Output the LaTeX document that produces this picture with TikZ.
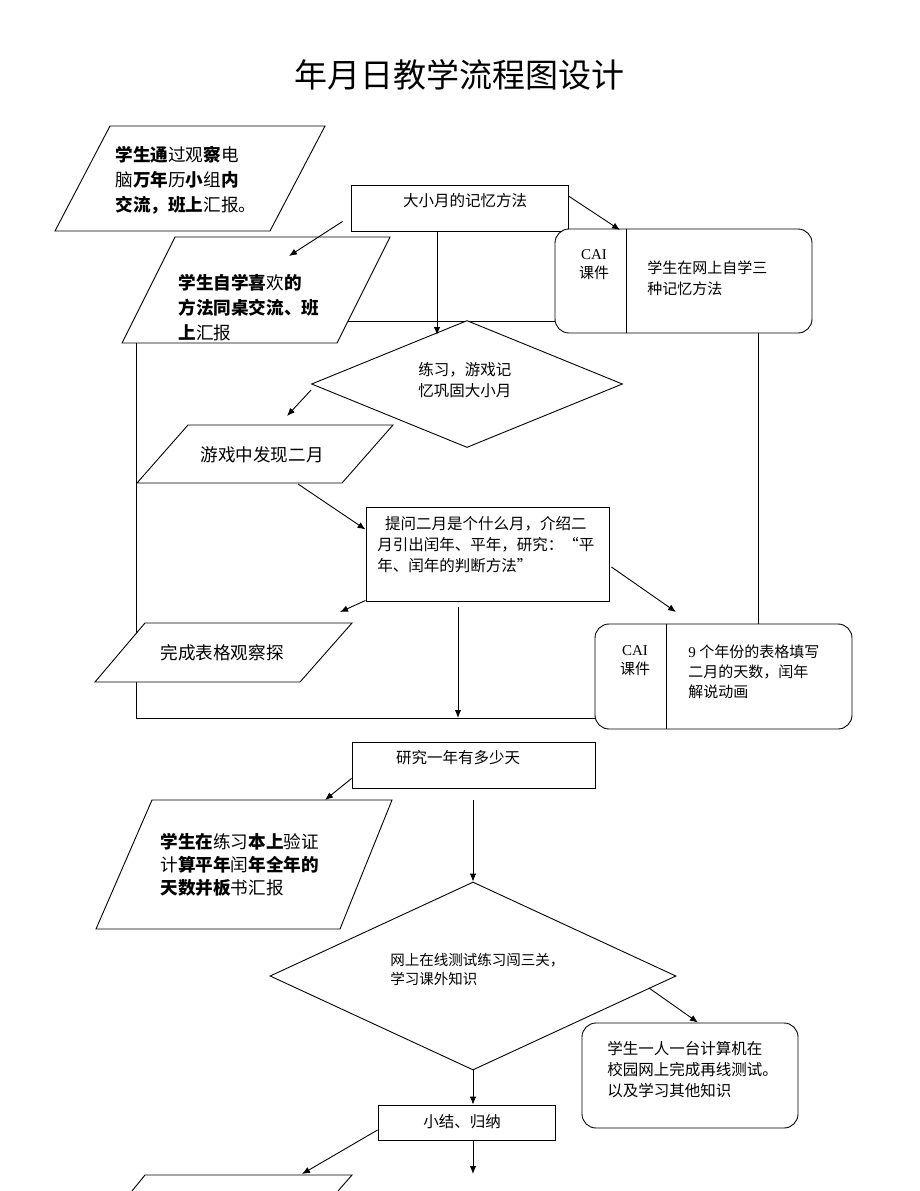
\documentclass[tikz,border=0pt]{standalone}
\usepackage{fontspec}
\setmainfont{Noto Sans CJK SC}
\newfontfamily\tms{Liberation Serif}
\usetikzlibrary{arrows.meta, shapes.geometric, positioning, backgrounds}

\begin{document}
\begin{tikzpicture}[
            x=1pt, y=-1pt,
            line width=0.9pt,
            >={Latex[length=8pt, width=6.5pt]},
            flow/.style={draw, fill=white},
            box/.style={draw, fill=white, rectangle, inner sep=0pt},
            rbox/.style={box, rounded corners=14pt},
            choice/.style={draw, fill=white, diamond, inner sep=0pt},
            txt/.style={inner sep=0pt, align=left, anchor=west, font=\fontsize{15.5}{21}\selectfont},
            bigtxt/.style={inner sep=0pt, align=left, anchor=west, font=\fontsize{17.6}{25}\selectfont},
            tag/.style={inner sep=0pt, align=center, font=\fontsize{15}{19}\selectfont},
            link/.style={->}
        ]
        \useasboundingbox (0,0) rectangle (920,1191);

        \node[font=\fontsize{33}{36}\selectfont] (title) at (459,75) {年月日教学流程图设计};

        % boxes
        \node[box, minimum width=217pt, minimum height=46pt] (months) at (459.5,208) {};
        \node[rbox, minimum width=257pt, minimum height=104pt] (cai1) at (683.5,281) {};
        \node[choice, minimum width=311pt, minimum height=127pt] (play) at (467,384) {};
        \node[box, minimum width=243pt, minimum height=94pt] (ask) at (487.5,554) {};
        \node[rbox, minimum width=257pt, minimum height=105pt] (cai2) at (723.5,676.5) {};
        \node[box, minimum width=243pt, minimum height=46pt] (study) at (473.5,765) {};
        \node[choice, minimum width=406pt, minimum height=188pt] (test) at (473,976) {};
        \node[rbox, minimum width=216pt, minimum height=105pt] (net) at (690,1075.5) {};
        \node[box, minimum width=177pt, minimum height=35pt] (sum) at (466.5,1122.5) {};

        \draw ([xshift=72pt]cai1.north west) -- ([xshift=72pt]cai1.south west);
        \draw ([xshift=72pt]cai2.north west) -- ([xshift=72pt]cai2.south west);

        % parallelograms
        \draw[flow] (110,126) -- (325,126) -- (270,231) -- (55,231) -- cycle;
        \draw[flow] (175,237) -- (390,237) -- (337,343) -- (122,343) -- cycle;
        \draw[flow] (188,425) -- (393,425) -- (342,483) -- (137,483) -- cycle;
        \draw[flow] (145,623) -- (352,623) -- (300,682) -- (95,682) -- cycle;
        \draw[flow] (152,800) -- (392,800) -- (340,929) -- (96,929) -- cycle;
        \draw[flow] (132,1191) -- (145,1175) -- (352,1175) -- (338,1191);

        \coordinate (loopTop) at (136,343);
        \coordinate (loopBot) at (136,718);
        \coordinate (loopEnd) at (595,718);
        \coordinate (p2side) at (348,321);

        \begin{scope}[on background layer]
            \draw (loopTop) -- (loopBot) -- (loopEnd);
            \draw (p2side) -- ([yshift=-40pt]cai1.west);
            \draw ([xshift=74.5pt]cai1.south) -- ([xshift=34.5pt]cai2.north);
        \end{scope}

        % texts
        \node[bigtxt] (t1) at (115,180) {\textbf{学生通}过观\textbf{察}电\\脑\textbf{万年}历\textbf{小}组\textbf{内}\\\textbf{交流，班上}汇报。};
        \node[txt, anchor=center] (tmonths) at (465,201) {大小月的记忆方法};
        \node[bigtxt] (t2) at (178,308) {\textbf{学生自学喜}欢\textbf{的}\\\textbf{方法同桌交流、班}\\\textbf{上}汇报};
        \node[tag] (tcai1) at (594,265) {{\tms CAI}\\课件};
        \node[txt, font=\fontsize{15}{21}\selectfont] (tcai1b) at (647,278) {学生在网上自学三\\种记忆方法};
        \node[txt] (tplay) at (418,380) {练习，游戏记\\忆巩固大小月};
        \node[bigtxt, anchor=center] (t3) at (262,455) {游戏中发现二月};
        \node[txt] (task) at (377,545) {\hspace*{0.5em}提问二月是个什么月，介绍二\\月引出闰年、平年，研究：“平\\年、闰年的判断方法”};
        \node[bigtxt, anchor=center] (t4) at (222,653) {完成表格观察探};
        \node[tag] (tcai2) at (635,661) {{\tms CAI}\\课件};
        \node[txt, font=\fontsize{15}{20}\selectfont] (tcai2b) at (688,672) {{\tms 9} 个年份的表格填写\\二月的天数，闰年\\解说动画};
        \node[txt, anchor=center] (tstudy) at (458,758) {研究一年有多少天};
        \node[bigtxt, font=\fontsize{17.6}{23}\selectfont] (t5) at (160,865) {\textbf{学生在}练习\textbf{本上}验证\\计\textbf{算平年}闰\textbf{年全年的}\\\textbf{天数并板}书汇报};
        \node[txt, font=\fontsize{14.5}{19}\selectfont] (ttest) at (390,969) {网上在线测试练习闯三关，\\学习课外知识};
        \node[txt] (tnet) at (607,1070) {学生一人一台计算机在\\校园网上完成再线测试。\\以及学习其他知识};
        \node[txt, anchor=center] (tsum) at (462,1122) {小结、归纳};

        % arrows
        \coordinate (tipP2) at (289,256);
        \coordinate (tipCai1) at (620,230);
        \coordinate (tipPlay) at (437,335);
        \coordinate (tipP3) at (287,416);
        \coordinate (p3out) at (298,484);
        \coordinate (tipP4) at (340,612);
        \coordinate (tipCai2) at (676,612);
        \coordinate (tipLoop) at (458,718);
        \coordinate (tipP5) at (325,800);
        \coordinate (testOut) at (649,988);
        \coordinate (tipP6) at (302,1174);
        \coordinate (tipEnd) at (473,1174);

        \draw[link] ([xshift=-8pt, yshift=10pt]months.south west) -- (tipP2);
        \draw[link] ([yshift=12pt]months.east) -- (tipCai1);
        \draw[link] (months.south -| tipPlay) -- (tipPlay);
        \draw[link] ([yshift=-6pt]play.west) -- (tipP3);
        \draw[link] (p3out) -- ([yshift=-23pt]ask.north west);
        \draw[link] ([yshift=1pt]ask.south west) -- (tipP4);
        \draw[link] ([xshift=2pt, yshift=-13pt]ask.east) -- (tipCai2);
        \draw[link] ([yshift=-6pt]ask.south -| tipLoop) -- (tipLoop);
        \draw[link] ([yshift=10pt]study.south west) -- (tipP5);
        \draw[link] ([yshift=-12pt]study.south -| test.north) -- (test.north);
        \draw[link] (testOut) -- ([xshift=8pt]net.north);
        \draw[link] (test.south) -- (test.south |- sum.north);
        \draw[link] ([yshift=-7.5pt]sum.west) -- (tipP6);
        \draw[link] (sum.south -| tipEnd) -- (tipEnd);
    \end{tikzpicture}
\end{document}
